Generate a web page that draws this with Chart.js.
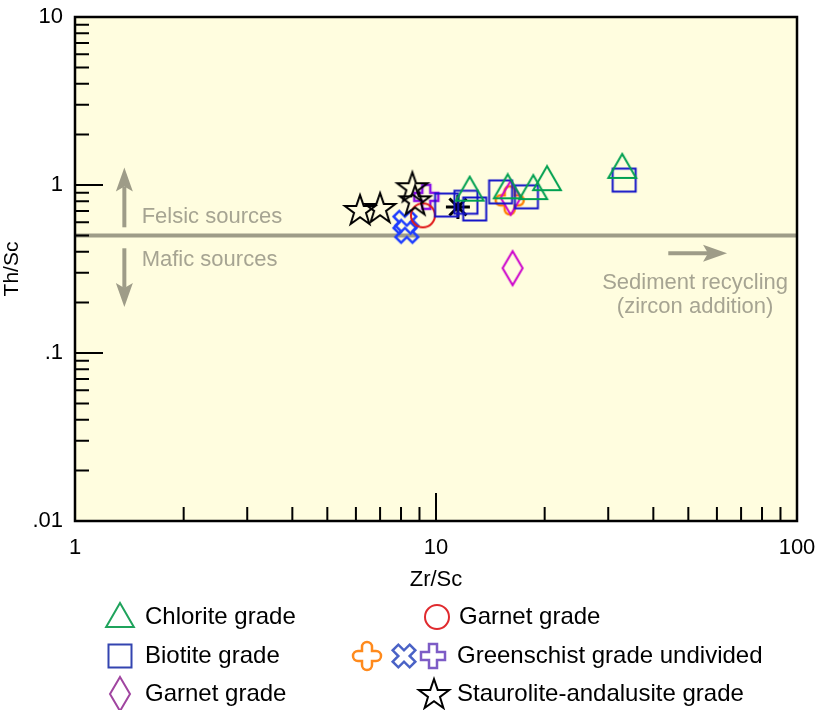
<!DOCTYPE html>
<html>
<head>
<meta charset="utf-8">
<script src="https://cdn.jsdelivr.net/npm/chart.js@4.4.1/dist/chart.umd.min.js"></script>
<style>
html, body { margin: 0; padding: 0; background: #fff; }
#wrap { width: 815px; height: 710px; }
</style>
</head>
<body>
<div id="wrap"><canvas id="thsc" width="815" height="710"></canvas></div>
<script>
// Th/Sc against Zr/Sc
const chloriteZr = [12.4, 15.8, 18.6, 20.3, 32.8];
const chloriteTh = [0.90, 0.93, 0.92, 1.04, 1.23];
const biotiteZr = [10.7, 12.1, 12.8, 15.1, 17.8, 33.2];
const biotiteTh = [0.76, 0.79, 0.72, 0.91, 0.85, 1.07];
const garnetDiaZr = [16.1, 16.3];
const garnetDiaTh = [0.84, 0.32];
const garnetCirZr = [9.2];
const garnetCirTh = [0.66];
const gsOrangeZr = [16.0];
const gsOrangeTh = [0.81];
const gsBlueZr = [8.2, 8.3];
const gsBlueTh = [0.60, 0.53];
const gsPurpleZr = [9.4];
const gsPurpleTh = [0.85];
const stauroZr = [6.16, 7.0, 8.6, 8.75];
const stauroTh = [0.71, 0.73, 0.97, 0.81];
const asteriskZr = [11.5];
const asteriskTh = [0.74];

const xTickValues = [1, 10, 100];
const xTickLabels = ['1', '10', '100'];
const yTickValues = [0.01, 0.1, 1, 10];
const yTickLabels = ['.01', '.1', '1', '10'];
const xMinorTicks = [2, 3, 4, 5, 6, 7, 8, 9, 20, 30, 40, 50, 60, 70, 80, 90];
const xMajorTicks = [10];
const yMinorTicks = [0.02, 0.03, 0.04, 0.05, 0.06, 0.07, 0.08, 0.09, 0.2, 0.3, 0.4, 0.5, 0.6, 0.7, 0.8, 0.9, 2, 3, 4, 5, 6, 7, 8, 9];
const yMajorTicks = [0.1, 1];

const boundaryTh = 0.5;
const legendLeft = ['Chlorite grade', 'Biotite grade', 'Garnet grade'];
const legendRight = ['Garnet grade', 'Greenschist grade undivided', 'Staurolite-andalusite grade'];

const FONT = "'Liberation Sans', Arial, sans-serif";
const GREY = '#9e9c88';
const GREY_TXT = '#a6a492';

function pts(xs, ys) { return xs.map((x, i) => ({ x: x, y: ys[i] })); }

// marker canvases
function icon(w, h, lw, color, draw) {
	const c = document.createElement('canvas');
	c.width = w; c.height = h;
	const g = c.getContext('2d');
	g.translate(w / 2, h / 2);
	g.strokeStyle = color;
	g.lineWidth = lw;
	g.lineJoin = 'miter';
	g.beginPath();
	draw(g);
	g.closePath();
	g.stroke();
	return c;
}
function triangle(color) {
	return icon(34, 36, 2, color, g => {
		const r = 16;
		g.moveTo(0, -r); g.lineTo(r * 0.866, r / 2); g.lineTo(-r * 0.866, r / 2);
	});
}
function square(color) {
	return icon(28, 28, 2, color, g => { g.rect(-11.5, -11.5, 23, 23); });
}
function diamond(color) {
	return icon(26, 40, 2, color, g => {
		g.moveTo(0, -17); g.lineTo(10, 0); g.lineTo(0, 17); g.lineTo(-10, 0);
	});
}
function circle(color) {
	return icon(30, 30, 2, color, g => { g.arc(0, 0, 12, 0, Math.PI * 2); });
}
function star(color) {
	return icon(38, 38, 2, color, g => {
		const R = 16, r = 6.3;
		for (let k = 0; k < 10; k++) {
			const a = -Math.PI / 2 + k * Math.PI / 5;
			const rr = k % 2 ? r : R;
			const px = Math.cos(a) * rr, py = Math.sin(a) * rr + 1;
			if (k === 0) g.moveTo(px, py); else g.lineTo(px, py);
		}
	});
}
function plusPath(g, a, L, rot) {
	const p = [[-a, -L], [a, -L], [a, -a], [L, -a], [L, a], [a, a], [a, L], [-a, L], [-a, a], [-L, a], [-L, -a], [-a, -a]];
	const c = Math.cos(rot), s = Math.sin(rot);
	p.forEach((q, i) => {
		const x = q[0] * c - q[1] * s, y = q[0] * s + q[1] * c;
		if (i === 0) g.moveTo(x, y); else g.lineTo(x, y);
	});
}
function xcross(color) {
	return icon(30, 30, 2.5, color, g => plusPath(g, 4, 12, Math.PI / 4));
}
function plus(color) {
	return icon(30, 30, 2.5, color, g => plusPath(g, 4, 12, 0));
}
function roundCross(color) {
	return icon(34, 34, 2.5, color, g => {
		const a = 5, L = 14;
		g.moveTo(-a, -a);
		g.lineTo(-a, -L + a); g.arc(0, -L + a, a, Math.PI, 0);
		g.lineTo(a, -a);
		g.lineTo(L - a, -a); g.arc(L - a, 0, a, -Math.PI / 2, Math.PI / 2);
		g.lineTo(a, a);
		g.lineTo(a, L - a); g.arc(0, L - a, a, 0, Math.PI);
		g.lineTo(-a, a);
		g.lineTo(-L + a, a); g.arc(-L + a, 0, a, Math.PI / 2, Math.PI * 1.5);
	});
}

function arrow(ctx, x1, y1, x2, y2) {
	const len = Math.hypot(x2 - x1, y2 - y1);
	const ux = (x2 - x1) / len, uy = (y2 - y1) / len;
	const nx = -uy, ny = ux;
	const hl = 24, hw = 8.5, notch = 5;
	const bx = x2 - ux * hl, by = y2 - uy * hl;
	ctx.strokeStyle = GREY;
	ctx.fillStyle = GREY;
	ctx.lineWidth = 4;
	ctx.beginPath();
	ctx.moveTo(x1, y1);
	ctx.lineTo(bx + ux * notch, by + uy * notch);
	ctx.stroke();
	ctx.beginPath();
	ctx.moveTo(x2, y2);
	ctx.lineTo(bx + nx * hw, by + ny * hw);
	ctx.lineTo(bx + ux * notch, by + uy * notch);
	ctx.lineTo(bx - nx * hw, by - ny * hw);
	ctx.closePath();
	ctx.fill();
}

const decor = {
	id: 'decor',
	beforeDatasetsDraw(chart) {
		const { ctx, chartArea: a, scales: { x, y } } = chart;
		ctx.save();
		ctx.fillStyle = '#fffddf';
		ctx.fillRect(a.left, a.top, a.right - a.left, a.bottom - a.top);

		// felsic / mafic boundary
		const yb = y.getPixelForValue(boundaryTh);
		ctx.strokeStyle = GREY;
		ctx.lineWidth = 4;
		ctx.beginPath();
		ctx.moveTo(a.left, yb);
		ctx.lineTo(a.right, yb);
		ctx.stroke();

		const ax = x.getPixelForValue(1.37);
		arrow(ctx, ax, y.getPixelForValue(0.56), ax, y.getPixelForValue(1.27));
		arrow(ctx, ax, y.getPixelForValue(0.42), ax, y.getPixelForValue(0.188));
		const ry = y.getPixelForValue(0.393);
		arrow(ctx, x.getPixelForValue(44), ry, x.getPixelForValue(64), ry);

		ctx.fillStyle = GREY_TXT;
		ctx.font = '22px ' + FONT;
		ctx.textBaseline = 'middle';
		ctx.textAlign = 'left';
		ctx.fillText('Felsic sources', x.getPixelForValue(1.53), y.getPixelForValue(0.645));
		ctx.fillText('Mafic sources', x.getPixelForValue(1.53), y.getPixelForValue(0.358));
		ctx.textAlign = 'center';
		ctx.fillText('Sediment recycling', x.getPixelForValue(52.2), y.getPixelForValue(0.261));
		ctx.fillText('(zircon addition)', x.getPixelForValue(52.2), y.getPixelForValue(0.188));
		ctx.restore();
	},
	afterDatasetsDraw(chart) {
		const { ctx, chartArea: a, scales: { x, y } } = chart;
		ctx.save();
		ctx.strokeStyle = '#000';
		ctx.lineWidth = 2;
		ctx.beginPath();
		xMinorTicks.forEach(v => { const p = x.getPixelForValue(v); ctx.moveTo(p, a.bottom); ctx.lineTo(p, a.bottom - 14); });
		xMajorTicks.forEach(v => { const p = x.getPixelForValue(v); ctx.moveTo(p, a.bottom); ctx.lineTo(p, a.bottom - 28); });
		yMinorTicks.forEach(v => { const p = y.getPixelForValue(v); ctx.moveTo(a.left, p); ctx.lineTo(a.left + 14, p); });
		yMajorTicks.forEach(v => { const p = y.getPixelForValue(v); ctx.moveTo(a.left, p); ctx.lineTo(a.left + 28, p); });
		ctx.stroke();
		ctx.lineWidth = 2.5;
		ctx.strokeRect(a.left, a.top, a.right - a.left, a.bottom - a.top);
		ctx.restore();
	},
	afterDraw(chart) {
		const ctx = chart.ctx;
		ctx.save();
		ctx.font = '24px ' + FONT;
		ctx.fillStyle = '#000';
		ctx.textBaseline = 'middle';
		ctx.textAlign = 'left';
		const rows = [617, 656, 694];
		const put = (c, cx, cy) => ctx.drawImage(c, cx - c.width / 2, cy - c.height / 2);
		put(triangle('#1fa35c'), 120, rows[0] + 2);
		put(square('#3344b0'), 120, rows[1]);
		put(diamond('#a045a0'), 120, rows[2]);
		legendLeft.forEach((t, i) => ctx.fillText(t, 145, rows[i]));
		put(circle('#e02a2e'), 437, rows[0]);
		put(roundCross('#ff8a1c'), 367, rows[1]);
		put(xcross('#4a62c6'), 404, rows[1]);
		put(plus('#7d5cc6'), 433, rows[1]);
		put(star('#000'), 434, rows[2]);
		ctx.fillText(legendRight[0], 459, rows[0]);
		ctx.fillText(legendRight[1], 457, rows[1]);
		ctx.fillText(legendRight[2], 457, rows[2]);
		ctx.restore();
	}
};

const chart = new Chart(document.getElementById('thsc').getContext('2d'), {
	type: 'scatter',
	data: {
		datasets: [
			{ label: 'Chlorite grade', data: pts(chloriteZr, chloriteTh), pointStyle: triangle('#00a050'), pointRadius: 12 },
			{ label: 'Biotite grade', data: pts(biotiteZr, biotiteTh), pointStyle: square('#1414c8'), pointRadius: 12 },
			{ label: 'Garnet grade', data: pts(garnetDiaZr, garnetDiaTh), pointStyle: diamond('#cc00cc'), pointRadius: 12 },
			{ label: 'Staurolite-andalusite grade', data: pts(stauroZr, stauroTh), pointStyle: star('#000'), pointRadius: 12 },
			{ label: 'Staurolite-andalusite grade', data: pts(asteriskZr, asteriskTh), pointStyle: 'star', pointRadius: 12, borderColor: '#000', borderWidth: 3 },
			{ label: 'Garnet grade', data: pts(garnetCirZr, garnetCirTh), pointStyle: circle('#e01818'), pointRadius: 12 },
			{ label: 'Greenschist grade undivided', data: pts(gsOrangeZr, gsOrangeTh), pointStyle: roundCross('#ff8000'), pointRadius: 12 },
			{ label: 'Greenschist grade undivided', data: pts(gsPurpleZr, gsPurpleTh), pointStyle: plus('#8a10e8'), pointRadius: 12 },
			{ label: 'Greenschist grade undivided', data: pts(gsBlueZr, gsBlueTh), pointStyle: xcross('#1c3cff'), pointRadius: 12 }
		]
	},
	options: {
		responsive: false,
		devicePixelRatio: 1,
		animation: false,
		layout: { padding: { left: 0, right: 18, top: 17, bottom: 110 } },
		plugins: {
			legend: { display: false },
			tooltip: { enabled: false }
		},
		scales: {
			x: {
				type: 'logarithmic',
				min: 1,
				max: 100,
				afterBuildTicks: s => { s.ticks = xTickValues.map(v => ({ value: v })); },
				afterFit: s => { s.height = 79; s.paddingLeft = 0; s.paddingRight = 0; },
				ticks: {
					callback: (v, i) => xTickLabels[i],
					font: { size: 22, family: FONT },
					color: '#000',
					padding: 14,
					maxRotation: 0,
					autoSkip: false
				},
				grid: { display: false, drawTicks: false },
				border: { display: false },
				title: { display: true, text: 'Zr/Sc', color: '#000', font: { size: 22, family: FONT }, padding: { top: 2, bottom: 7 } }
			},
			y: {
				type: 'logarithmic',
				min: 0.01,
				max: 10,
				afterBuildTicks: s => { s.ticks = yTickValues.map(v => ({ value: v })); },
				afterFit: s => { s.width = 75; s.paddingTop = 0; s.paddingBottom = 0; },
				ticks: {
					callback: (v, i) => yTickLabels[i],
					font: { size: 22, family: FONT },
					color: '#000',
					padding: 12,
					autoSkip: false
				},
				grid: { display: false, drawTicks: false },
				border: { display: false },
				title: { display: true, text: 'Th/Sc', color: '#000', font: { size: 21, family: FONT }, padding: { top: 0, bottom: 0 } }
			}
		}
	},
	plugins: [decor]
});
</script>
</body>
</html>
